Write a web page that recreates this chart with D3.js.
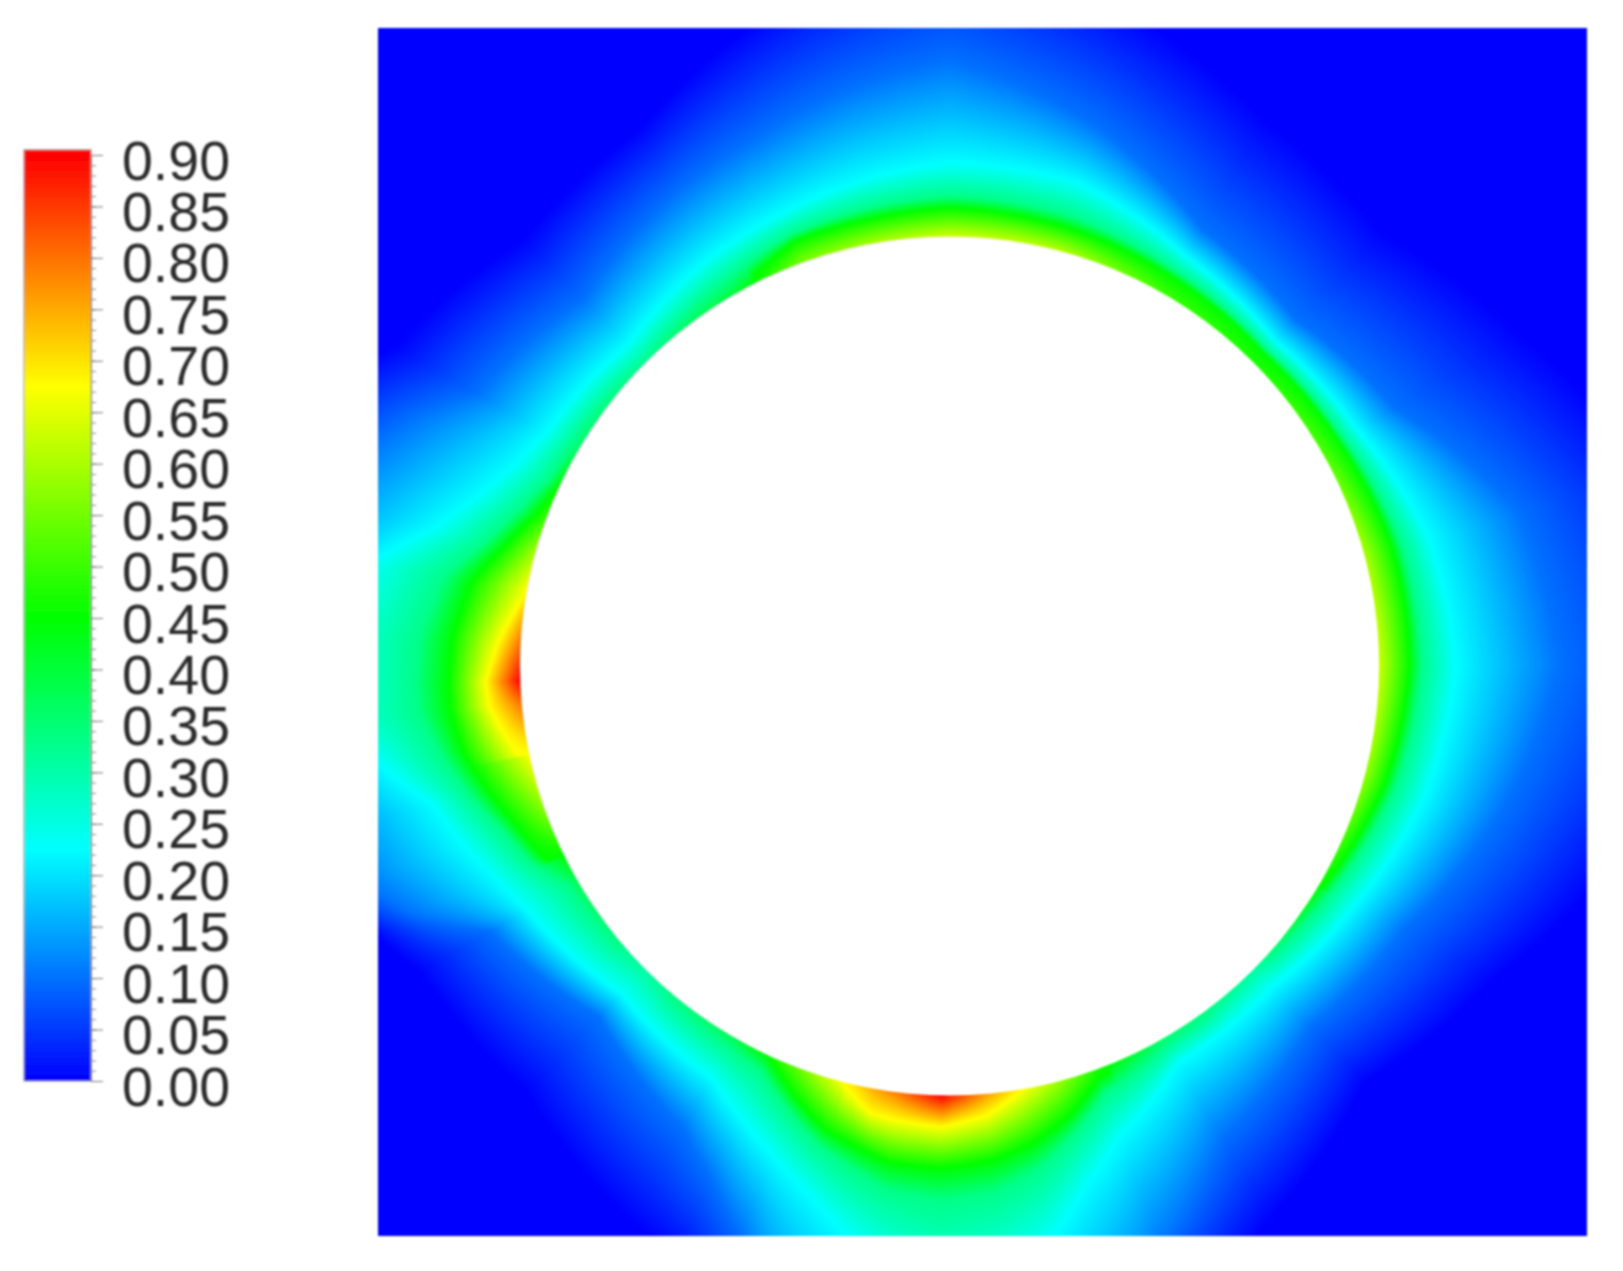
<!DOCTYPE html>
<html>
<head>
<meta charset="utf-8">
<script src="https://cdn.jsdelivr.net/npm/d3@7"></script>
<style>
  html, body { margin: 0; background: #fff; }
  #chart { position: relative; width: 1623px; height: 1271px; overflow: hidden; }
  canvas { position: absolute; filter: blur(1.2px); }
  svg { position: absolute; left: 0; top: 0; }
</style>
</head>
<body>
<div id="chart"></div>
<script>
'use strict';

// colour bar
const tickValues = d3.range(0, 19).map((i) => i * 0.05);
const minorValues = d3.range(0, 91).map((i) => i * 0.01);
const colorStops = [0, 0.225, 0.45, 0.675, 0.9];
const colorNames = ['#0000ff', '#00ffff', '#00ff00', '#ffff00', '#ff0000'];

// field: for each direction around the hole (degrees,
// clockwise from east) the value on the hole edge and how far out each contour sits
const holeRadius = 429.5;
const angles = [0, 15, 30, 45, 60, 70, 75, 80, 85, 91, 97, 100, 105, 110, 115, 120, 135, 150, 155, 160,
  165, 170, 175, 178, 183, 190, 195, 200, 205, 210, 225, 240, 250, 260, 270, 285, 300, 315, 330, 345];
const edgeValue = [.63, .58, .46, .31, .35, .47, .58, .67, .76, .90, .79, .75, .66, .55, .45, .38, .31, .38, .47, .56,
  .63, .70, .80, .90, .80, .68, .60, .50, .45, .36, .33, .40, .56, .60, .63, .61, .50, .47, .52, .60];
const levels = [0.675, 0.45, 0.33, 0.225, 0.1, 0];
const rYellow = [429, 429, 429, 429, 429, 429, 429, 429, 450, 461, 457, 454, 429, 429, 429, 429, 429, 429, 429, 429,
  429, 446, 462, 464, 452, 429, 429, 429, 429, 429, 429, 429, 429, 429, 429, 429, 429, 429, 429, 429];
const rGreen = [460, 451, 434, 429, 429, 438, 465, 484, 496, 502, 500, 492, 480, 456, 429, 429, 429, 429, 449, 462,
  478, 494, 501, 501, 498, 485, 461, 441, 429, 429, 429, 429, 452, 454, 458, 454, 448, 443, 449, 458];
const rSpring = [472, 462, 444, 429, 436, 455, 484, 511, 528, 534, 527, 516, 498, 473, 447, 440, 429, 440, 463, 477,
  497, 516, 533, 534, 531, 513, 480, 457, 442, 438, 429, 445, 460, 465, 470, 466, 455, 448, 455, 468];
const rCyan = [506, 493, 471, 455, 458, 500, 534, 583, 613, 640, 598, 580, 546, 520, 497, 476, 464, 488, 501, 519,
  535, 577, 620, 621, 621, 590, 533, 500, 478, 466, 455, 474, 483, 494, 503, 500, 473, 460, 471, 496];
const rLight = [610, 570, 525, 510, 545, 620, 690, 740, 760, 760, 750, 720, 680, 606, 564, 533, 496, 530, 590, 630,
  650, 680, 760, 760, 760, 690, 660, 625, 590, 545, 518, 546, 562, 585, 605, 560, 505, 490, 515, 590];
const rDeep = [790, 700, 628, 588, 640, 690, 780, 810, 860, 860, 840, 810, 770, 680, 650, 640, 600, 612, 635, 690,
  740, 780, 860, 860, 860, 790, 750, 720, 680, 640, 603, 620, 660, 700, 740, 680, 630, 612, 660, 730];

const color = d3.scaleLinear().domain(colorStops).range(colorNames);

// plate, in field units with the hole centre at 0,0
const xScale = d3.scaleLinear().domain([-571.5, 637.5]).range([378, 1587]);
const yScale = d3.scaleLinear().domain([-638, 570]).range([28, 1236]);

// direction -> value, wrapping past 360
function wrapped(arr) {
  return d3.scaleLinear().domain(angles.concat(360)).range(arr.concat(arr[0]));
}
const edgeAt = wrapped(edgeValue);
const radiusAt = [rYellow, rGreen, rSpring, rCyan, rLight, rDeep].map(wrapped);

// tables so the pixel loop stays quick
const directions = d3.range(0, 1441).map((i) => {
  const deg = i / 4;
  return { edge: edgeAt(deg), radii: radiusAt.map((f) => f(deg)) };
});
const palette = d3.range(0, 901).map((i) => d3.rgb(color(i / 1000)));

function fieldValue(deg, r) {
  const d = directions[Math.round(deg * 4)];
  let prevR = holeRadius;
  let prevV = d.edge;
  for (let k = 0; k < levels.length; k++) {
    if (levels[k] >= d.edge) continue;
    const rk = d.radii[k];
    if (rk <= prevR) continue;
    if (r < rk) return prevV + (levels[k] - prevV) * (r - prevR) / (rk - prevR);
    prevR = rk;
    prevV = levels[k];
  }
  return 0;
}

function drawField() {
  const left = xScale.range()[0], top = yScale.range()[0];
  const w = xScale.range()[1] - left, h = yScale.range()[1] - top;
  const canvas = d3.select('#chart').append('canvas')
    .attr('width', w)
    .attr('height', h)
    .style('left', left + 'px')
    .style('top', top + 'px');
  const ctx = canvas.node().getContext('2d');
  const img = ctx.createImageData(w, h);
  for (let py = 0; py < h; py++) {
    const fy = yScale.invert(top + py + 0.5);
    for (let px = 0; px < w; px++) {
      const fx = xScale.invert(left + px + 0.5);
      const r = Math.hypot(fx, fy);
      let deg = Math.atan2(fy, fx) * 180 / Math.PI;
      if (deg < 0) deg += 360;
      const v = r < holeRadius ? edgeAt(deg) : fieldValue(deg, r);
      const c = palette[Math.max(0, Math.min(900, Math.round(v * 1000)))];
      const o = (py * w + px) * 4;
      img.data[o] = c.r;
      img.data[o + 1] = c.g;
      img.data[o + 2] = c.b;
      img.data[o + 3] = 255;
    }
  }
  ctx.putImageData(img, 0, 0);
}

function drawOverlay() {
  const svg = d3.select('#chart').append('svg')
    .attr('width', 1623)
    .attr('height', 1271);

  const defs = svg.append('defs');
  defs.append('filter').attr('id', 'soft')
    .append('feGaussianBlur').attr('stdDeviation', 1);
  defs.append('filter').attr('id', 'softHole')
    .append('feGaussianBlur').attr('stdDeviation', 0.9);

  // the hole
  svg.append('circle')
    .attr('cx', xScale(0))
    .attr('cy', yScale(0))
    .attr('r', xScale(holeRadius) - xScale(0))
    .attr('fill', '#fff')
    .attr('filter', 'url(#softHole)');

  // colour bar
  const barScale = d3.scaleLinear().domain([0, 0.9]).range([1081, 155]);
  const grad = defs.append('linearGradient').attr('id', 'bar')
    .attr('gradientUnits', 'userSpaceOnUse')
    .attr('x1', 0).attr('x2', 0)
    .attr('y1', barScale(0)).attr('y2', barScale(0.9));
  colorStops.forEach((s, i) => {
    grad.append('stop').attr('offset', s / 0.9).attr('stop-color', colorNames[i]);
  });

  const legend = svg.append('g').attr('filter', 'url(#soft)');
  legend.append('rect')
    .attr('x', 24)
    .attr('y', barScale(0.905))
    .attr('width', 67)
    .attr('height', barScale(0) - barScale(0.905))
    .attr('fill', 'url(#bar)')
    .attr('stroke', '#999')
    .attr('stroke-width', 1);

  const minor = d3.axisRight(barScale).tickValues(minorValues).tickSize(5).tickFormat('');
  legend.append('g').attr('transform', 'translate(91,0)').call(minor)
    .call((g) => g.selectAll('line').attr('stroke', '#888'))
    .call((g) => g.select('.domain').attr('stroke', '#888'));

  const major = d3.axisRight(barScale).tickValues(tickValues).tickSize(12).tickPadding(19)
    .tickFormat(d3.format('.2f'));
  const axisG = legend.append('g').attr('transform', 'translate(91,0)').call(major);
  axisG.select('.domain').remove();
  axisG.selectAll('line').attr('stroke', '#777');
  axisG.selectAll('text')
    .attr('dy', 24)
    .attr('fill', '#2b2b2b')
    .style('font-family', '"Liberation Sans", Arial, sans-serif')
    .style('font-size', '55.5px');
}

drawField();
drawOverlay();
</script>
</body>
</html>
